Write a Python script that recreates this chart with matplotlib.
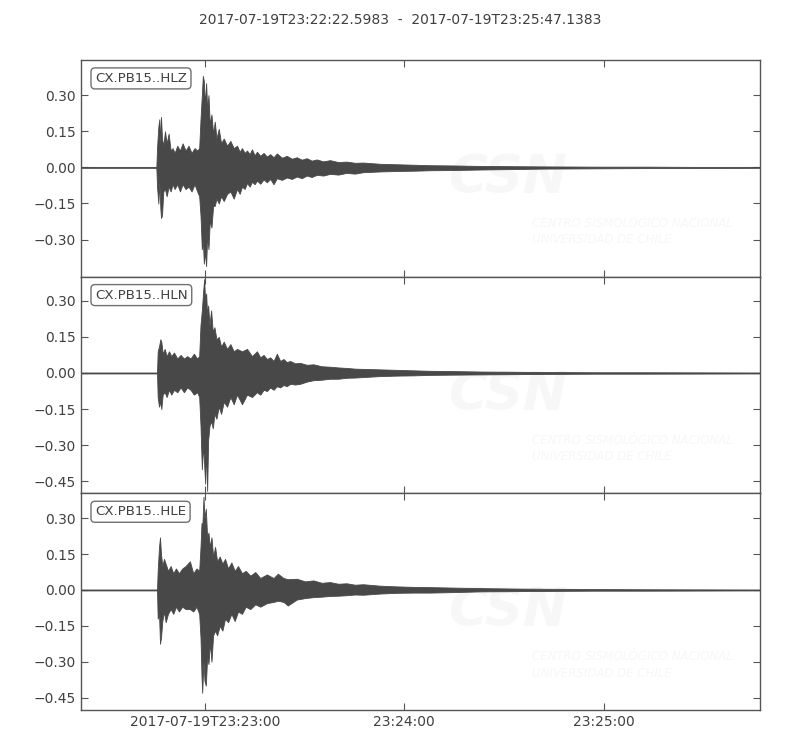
import datetime as dt
import matplotlib
matplotlib.use("Agg")
import matplotlib.pyplot as plt
from matplotlib.ticker import FixedLocator, FuncFormatter

# record window
t_start = "2017-07-19T23:22:22.5983"
t_end = "2017-07-19T23:25:47.1383"
tick_times = ["2017-07-19T23:23:00", "2017-07-19T23:24:00", "2017-07-19T23:25:00"]
tick_labels = ["2017-07-19T23:23:00", "23:24:00", "23:25:00"]

channels = ["CX.PB15..HLZ", "CX.PB15..HLN", "CX.PB15..HLE"]

# envelope of each trace (seconds after start, m/s^2)
t_hlz = [0.0, 22.7, 22.9, 23.3, 23.6, 23.9, 24.1, 24.4, 24.8, 25.3, 25.8, 26.4, 27.0, 27.6,
         28.2, 29.0, 29.8, 30.6, 31.5, 32.4, 33.3, 34.2, 35.0, 35.6, 36.0, 36.4, 36.7, 37.0,
         37.3, 37.7, 38.0, 38.4, 38.8, 39.3, 39.8, 40.3, 40.8, 41.5, 42.2, 43.0, 44.0, 45.0,
         46.0, 47.0, 47.8, 48.5, 49.3, 50.0, 50.8, 51.5, 52.3, 53.0, 54.0, 55.0, 56.0, 57.0,
         58.0, 59.0, 60.5, 62.0, 63.5, 65.0, 66.5, 68.0, 69.5, 71.0, 73.0, 75.0, 77.5, 80.0,
         82.5, 85.0, 90.0, 95.0, 100.0, 105.0, 112.0, 120.0, 130.0, 140.0, 155.0, 170.0,
         185.0, 204.5]
up_hlz = [0.002, 0.002, 0.08, 0.17, 0.20, 0.10, 0.21, 0.12, 0.09, 0.15, 0.10, 0.14, 0.07, 0.08,
          0.06, 0.09, 0.07, 0.10, 0.07, 0.09, 0.06, 0.08, 0.07, 0.08, 0.20, 0.30, 0.38, 0.36,
          0.26, 0.35, 0.24, 0.30, 0.18, 0.22, 0.14, 0.19, 0.12, 0.16, 0.10, 0.12, 0.09, 0.11,
          0.08, 0.09, 0.065, 0.08, 0.06, 0.07, 0.055, 0.075, 0.05, 0.065, 0.048, 0.06, 0.045,
          0.055, 0.042, 0.058, 0.04, 0.048, 0.036, 0.042, 0.032, 0.038, 0.028, 0.033, 0.025,
          0.03, 0.022, 0.024, 0.019, 0.02, 0.015, 0.013, 0.011, 0.009, 0.008, 0.006, 0.005,
          0.004, 0.003, 0.003, 0.002, 0.002]
lo_hlz = [-0.002, -0.002, -0.08, -0.15, -0.06, -0.17, -0.21, -0.20, -0.10, -0.09, -0.12, -0.08,
          -0.10, -0.07, -0.09, -0.07, -0.10, -0.07, -0.09, -0.08, -0.10, -0.07, -0.10, -0.12,
          -0.20, -0.34, -0.30, -0.40, -0.35, -0.41, -0.28, -0.34, -0.22, -0.25, -0.16, -0.16,
          -0.13, -0.15, -0.12, -0.14, -0.11, -0.10, -0.13, -0.09, -0.11, -0.08, -0.09, -0.065,
          -0.08, -0.06, -0.07, -0.055, -0.068, -0.05, -0.062, -0.048, -0.07, -0.045, -0.052,
          -0.042, -0.048, -0.038, -0.045, -0.034, -0.04, -0.031, -0.034, -0.027, -0.03, -0.023,
          -0.026, -0.02, -0.017, -0.015, -0.014, -0.012, -0.011, -0.009, -0.007, -0.005,
          -0.004, -0.003, -0.003, -0.002]

t_hln = [0.0, 22.9, 23.1, 23.5, 23.9, 24.2, 24.6, 25.2, 25.8, 26.5, 27.2, 28.0, 29.0, 30.0,
         31.0, 32.0, 33.0, 34.0, 35.0, 35.6, 36.0, 36.4, 36.8, 37.1, 37.4, 37.7, 38.0, 38.3,
         38.7, 39.2, 39.7, 40.2, 40.8, 41.5, 42.2, 43.0, 44.0, 45.0, 46.0, 47.0, 48.5, 50.0,
         51.5, 53.0, 54.0, 55.0, 56.0, 57.0, 58.0, 59.0, 60.0, 61.0, 62.0, 63.0, 64.5, 66.0,
         68.0, 70.0, 72.5, 75.0, 77.5, 80.0, 82.5, 85.0, 90.0, 95.0, 100.0, 105.0, 112.0,
         120.0, 130.0, 140.0, 155.0, 170.0, 204.5]
up_hln = [0.002, 0.002, 0.09, 0.11, 0.14, 0.13, 0.08, 0.10, 0.07, 0.09, 0.07, 0.085, 0.06, 0.075,
          0.06, 0.07, 0.06, 0.08, 0.06, 0.07, 0.20, 0.26, 0.34, 0.39, 0.30, 0.33, 0.24, 0.28,
          0.20, 0.26, 0.17, 0.19, 0.14, 0.15, 0.11, 0.13, 0.10, 0.12, 0.09, 0.10, 0.09, 0.10,
          0.07, 0.09, 0.065, 0.075, 0.058, 0.065, 0.05, 0.08, 0.05, 0.058, 0.045, 0.05, 0.04,
          0.042, 0.034, 0.036, 0.028, 0.026, 0.023, 0.021, 0.018, 0.017, 0.015, 0.013, 0.011,
          0.009, 0.008, 0.006, 0.005, 0.004, 0.003, 0.003, 0.002]
lo_hln = [-0.002, -0.002, -0.10, -0.14, -0.12, -0.15, -0.09, -0.08, -0.10, -0.07, -0.09, -0.07,
          -0.08, -0.06, -0.08, -0.06, -0.07, -0.09, -0.08, -0.10, -0.22, -0.40, -0.30, -0.38,
          -0.46, -0.32, -0.49, -0.28, -0.22, -0.20, -0.23, -0.17, -0.19, -0.14, -0.17, -0.12,
          -0.14, -0.10, -0.13, -0.09, -0.13, -0.09, -0.10, -0.08, -0.09, -0.07, -0.075, -0.06,
          -0.07, -0.055, -0.06, -0.05, -0.055, -0.045, -0.048, -0.045, -0.036, -0.03, -0.028,
          -0.024, -0.024, -0.02, -0.019, -0.017, -0.013, -0.011, -0.010, -0.008, -0.007,
          -0.006, -0.005, -0.004, -0.003, -0.003, -0.002]

t_hle = [0.0, 22.9, 23.1, 23.5, 23.8, 24.1, 24.5, 25.0, 25.5, 26.2, 27.0, 27.8, 28.6, 29.5,
         30.5, 31.5, 32.8, 33.8, 34.8, 35.6, 36.0, 36.3, 36.5, 36.9, 37.2, 37.6, 38.0, 38.4,
         38.8, 39.3, 39.8, 40.4, 41.0, 41.8, 42.6, 43.4, 44.3, 45.3, 46.3, 47.3, 48.5, 49.6,
         51.0, 52.5, 54.0, 56.0, 58.0, 59.3, 61.0, 62.3, 65.0, 67.5, 70.0, 72.5, 75.0, 77.5,
         80.0, 82.5, 85.0, 90.0, 95.0, 100.0, 105.0, 112.0, 120.0, 130.0, 140.0, 155.0, 170.0,
         204.5]
up_hle = [0.002, 0.002, 0.08, 0.18, 0.22, 0.15, 0.10, 0.13, 0.11, 0.08, 0.10, 0.07, 0.09, 0.07,
          0.09, 0.10, 0.12, 0.07, 0.09, 0.08, 0.18, 0.28, 0.25, 0.39, 0.30, 0.34, 0.22, 0.24,
          0.18, 0.22, 0.14, 0.18, 0.12, 0.14, 0.11, 0.13, 0.09, 0.115, 0.08, 0.10, 0.07, 0.08,
          0.06, 0.075, 0.05, 0.065, 0.05, 0.068, 0.05, 0.045, 0.047, 0.036, 0.04, 0.03, 0.033,
          0.026, 0.028, 0.022, 0.024, 0.018, 0.015, 0.013, 0.012, 0.010, 0.008, 0.006, 0.005,
          0.004, 0.003, 0.002]
lo_hle = [-0.002, -0.002, -0.12, -0.10, -0.225, -0.20, -0.13, -0.09, -0.135, -0.10, -0.08, -0.10,
          -0.07, -0.09, -0.07, -0.08, -0.08, -0.09, -0.07, -0.10, -0.20, -0.36, -0.43, -0.30,
          -0.38, -0.40, -0.28, -0.31, -0.22, -0.30, -0.19, -0.17, -0.19, -0.15, -0.17, -0.12,
          -0.135, -0.10, -0.13, -0.09, -0.10, -0.07, -0.08, -0.06, -0.07, -0.055, -0.05, -0.045,
          -0.05, -0.065, -0.04, -0.034, -0.03, -0.028, -0.025, -0.024, -0.022, -0.019, -0.02,
          -0.015, -0.012, -0.011, -0.011, -0.009, -0.006, -0.005, -0.004, -0.003, -0.003, -0.002]

y_ticks_hlz = [0.30, 0.15, 0.0, -0.15, -0.30]
y_ticks_hln = [0.30, 0.15, 0.0, -0.15, -0.30, -0.45]
y_ticks_hle = [0.30, 0.15, 0.0, -0.15, -0.30, -0.45]
y_lims = [(-0.454, 0.446), (-0.500, 0.400), (-0.502, 0.404)]

traces = [(t_hlz, up_hlz, lo_hlz, y_ticks_hlz),
          (t_hln, up_hln, lo_hln, y_ticks_hln),
          (t_hle, up_hle, lo_hle, y_ticks_hle)]

fmt = "%Y-%m-%dT%H:%M:%S.%f"
t0 = dt.datetime.strptime(t_start + "00", fmt)
t1 = dt.datetime.strptime(t_end + "00", fmt)
dur = (t1 - t0).total_seconds()
tick_pos = [(dt.datetime.strptime(s, "%Y-%m-%dT%H:%M:%S") - t0).total_seconds() for s in tick_times]

wave_col = "#484848"
frame_col = "#555555"
text_col = "#404040"
mark_col = "#f7f7f7"

fig = plt.figure(figsize=(8, 7.5), dpi=100)
fig.subplots_adjust(left=0.10125, right=0.95, top=0.92, bottom=0.0533, hspace=0)
axes = fig.subplots(3, 1, sharex=True)

def yfmt(v, pos):
    return ("%.2f" % v).replace("-", "\u2212")

for i, ax in enumerate(axes):
    tt, up, lo, yt = traces[i]
    # faint CSN watermark
    ax.text(0.628, 0.455, "CSN", transform=ax.transAxes, fontsize=38, fontweight="bold",
            style="italic", color=mark_col, ha="center", va="center", zorder=0)
    ax.text(0.664, 0.245, "CENTRO SISMOLÓGICO NACIONAL", transform=ax.transAxes, fontsize=8.5,
            style="italic", color=mark_col, ha="left", va="center", zorder=0)
    ax.text(0.664, 0.17, "UNIVERSIDAD DE CHILE", transform=ax.transAxes, fontsize=8.5,
            style="italic", color=mark_col, ha="left", va="center", zorder=0)

    ax.fill_between(tt, lo, up, color=wave_col, lw=0.6, zorder=2)
    ax.set_xlim(0, dur)
    ax.set_ylim(*y_lims[i])
    ax.yaxis.set_major_locator(FixedLocator(yt))
    ax.yaxis.set_major_formatter(FuncFormatter(yfmt))
    ax.xaxis.set_major_locator(FixedLocator(tick_pos))
    ax.tick_params(direction="in", length=5, width=0.8, top=True, right=True,
                   colors=frame_col, labelcolor=text_col, labelsize=10)
    for s in ax.spines.values():
        s.set_color(frame_col)
        s.set_linewidth(1.0)
    ax.text(0.0206, 0.945, channels[i], transform=ax.transAxes, fontsize=9.6,
            color=text_col, ha="left", va="top", zorder=5,
            bbox=dict(boxstyle="round,pad=0.3", fc="white", ec="#707070", lw=1.0))

axes[-1].set_xticklabels(tick_labels)
for ax in axes[:-1]:
    ax.tick_params(labelbottom=False)

fig.suptitle(t_start + "  -  " + t_end, y=0.973, va="center", fontsize=10, color=text_col)

fig.savefig("out.png", dpi=100)
